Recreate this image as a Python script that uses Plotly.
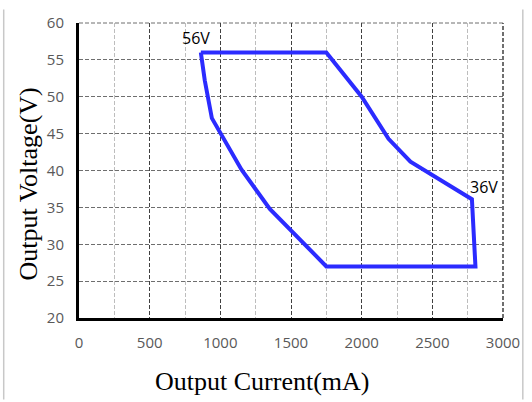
import plotly.graph_objects as go

current_mA = [862, 1750, 2000, 2190, 2345, 2655, 2780, 2805, 1750, 1350, 1150, 940, 890, 862]
voltage_V = [56, 56, 50, 44.3, 41.2, 37.5, 36.1, 27, 27, 34.8, 40.1, 47.1, 52.2, 56]

x_ticks = [0, 500, 1000, 1500, 2000, 2500, 3000]
y_ticks = [20, 25, 30, 35, 40, 45, 50, 55, 60]

labels = ["56V", "36V"]
label_x = [827, 2867]
label_y = [58.0, 37.7]

fig = go.Figure()
fig.add_trace(go.Scatter(x=current_mA, y=voltage_V, mode="lines",
                         line=dict(color="#2b2bff", width=4), showlegend=False))

for t, lx, ly in zip(labels, label_x, label_y):
    fig.add_annotation(x=lx, y=ly, text=t, showarrow=False, xanchor="center", yanchor="middle",
                       font=dict(family="Open Sans", size=16, color="#000000"))

DASH = "4px,2px"
tickfont = dict(family="Open Sans", size=15, color="#595959")
fig.update_xaxes(range=[0, 3000], tickvals=x_ticks, ticktext=[str(v) for v in x_ticks],
                 showgrid=True, gridcolor="#404040", griddash=DASH, gridwidth=1,
                 minor=dict(dtick=250, tick0=0, showgrid=True, gridcolor="#bdbdbd", griddash=DASH, gridwidth=1),
                 showline=True, linecolor="#000000", linewidth=3, zeroline=False,
                 ticks="", tickfont=tickfont, ticklabelstandoff=9)
fig.update_yaxes(range=[20, 60], tickvals=y_ticks, ticktext=[str(v) for v in y_ticks],
                 showgrid=True, gridcolor="#6e6e6e", griddash=DASH, gridwidth=1,
                 showline=True, linecolor="#000000", linewidth=3, zeroline=False,
                 ticks="", tickfont=tickfont, ticklabelstandoff=9)

# dashed top and right borders of the plot area
fig.add_shape(type="line", xref="paper", yref="paper", x0=0, x1=1, y0=1, y1=1,
              line=dict(color="#6e6e6e", width=1, dash=DASH), layer="below")
fig.add_shape(type="line", xref="paper", yref="paper", x0=1, x1=1, y0=0, y1=1,
              line=dict(color="#404040", width=1.5, dash=DASH), layer="below")

# outer frame lines of the page
for px in [3, 527]:
    xp = (px - 79) / 428
    fig.add_shape(type="line", xref="paper", yref="paper", x0=xp, x1=xp, y0=-84/304, y1=318/304,
                  line=dict(color="#c8c8c8", width=1.5))

fig.add_annotation(xref="paper", yref="paper", x=(264 - 79) / 428, y=(318 - 383) / 304,
                   xanchor="center", yanchor="middle",
                   text="Output Current(mA)", showarrow=False,
                   font=dict(family="Liberation Serif", size=26, color="#000000"))
fig.add_annotation(xref="paper", yref="paper", x=(28 - 79) / 428, y=(318 - 180) / 304,
                   xanchor="center", yanchor="middle",
                   text="Output Voltage(V)", showarrow=False, textangle=-90,
                   font=dict(family="Liberation Serif", size=26, color="#000000"))

fig.update_layout(width=532, height=402, margin=dict(l=79, r=25, t=14, b=84),
                  plot_bgcolor="white", paper_bgcolor="white")
fig.write_html("out.html")
